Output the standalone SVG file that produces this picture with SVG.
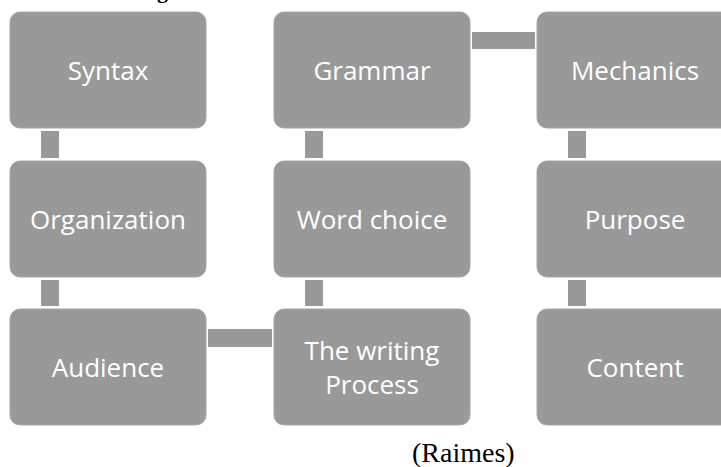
<svg xmlns="http://www.w3.org/2000/svg" width="721" height="467" viewBox="0 0 721 467">
<style>
.box{fill:#999999;stroke:#a6a6a6;stroke-width:1}
.lbl{font-family:"Open Sans","Liberation Sans",sans-serif;font-size:26px;fill:#ffffff;text-anchor:middle;dominant-baseline:central}
.con{fill:#999999}
.serif{font-family:"Liberation Serif",serif;fill:#000000}
</style>
<rect width="721" height="467" fill="#ffffff"/>
<text class="serif" x="157" y="-2" font-size="22" font-weight="bold">g</text>
<g id="connectors">
<rect class="con" x="41" y="131" width="18" height="27"/>
<rect class="con" x="41" y="280" width="18" height="26"/>
<rect class="con" x="305" y="131" width="18" height="27"/>
<rect class="con" x="305" y="280" width="18" height="26"/>
<rect class="con" x="568" y="131" width="18" height="27"/>
<rect class="con" x="568" y="280" width="18" height="26"/>
<rect class="con" x="472" y="32" width="63" height="17"/>
<rect class="con" x="208" y="329" width="64" height="18"/>
</g>
<g id="syntax"><rect class="box" x="10" y="12" width="196" height="116" rx="10"/><text class="lbl" x="108" y="70">Syntax</text></g>
<g id="grammar"><rect class="box" x="274" y="12" width="196" height="116" rx="10"/><text class="lbl" x="372" y="70">Grammar</text></g>
<g id="mechanics"><rect class="box" x="537" y="12" width="196" height="116" rx="10"/><text class="lbl" x="635" y="70">Mechanics</text></g>
<g id="organization"><rect class="box" x="10" y="161" width="196" height="116" rx="10"/><text class="lbl" x="108" y="219">Organization</text></g>
<g id="wordchoice"><rect class="box" x="274" y="161" width="196" height="116" rx="10"/><text class="lbl" x="372" y="219">Word choice</text></g>
<g id="purpose"><rect class="box" x="537" y="161" width="196" height="116" rx="10"/><text class="lbl" x="635" y="219">Purpose</text></g>
<g id="audience"><rect class="box" x="10" y="309" width="196" height="116" rx="10"/><text class="lbl" x="108" y="367">Audience</text></g>
<g id="writingprocess"><rect class="box" x="274" y="309" width="196" height="116" rx="10"/><text class="lbl" x="372" y="350">The writing</text><text class="lbl" x="372" y="384">Process</text></g>
<g id="content"><rect class="box" x="537" y="309" width="196" height="116" rx="10"/><text class="lbl" x="635" y="367">Content</text></g>
<text class="serif" x="412" y="462" font-size="28">(Raimes)</text>
</svg>
